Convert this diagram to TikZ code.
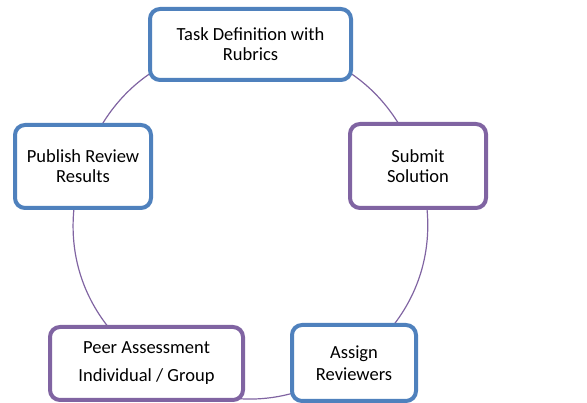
\documentclass[tikz,border=0pt]{standalone}
\usepackage{fontspec}
\setmainfont{Carlito}
\usetikzlibrary{backgrounds}
\definecolor{stepblue}{HTML}{4F81BD}
\definecolor{steppurple}{HTML}{8064A2}
\begin{document}
\begin{tikzpicture}[x=1pt,y=1pt,
  cyclebox/.style={draw, line width=4pt, rounded corners=10pt, fill=white,
    inner sep=0pt, align=center, text=black,
    font=\fontsize{18.5}{20}\selectfont},
  bluebox/.style={cyclebox, draw=stepblue},
  purplebox/.style={cyclebox, draw=steppurple},
  link/.style={draw=steppurple, line width=1.2pt, bend left=36}]
\useasboundingbox (0,0) rectangle (587,403);

% the five stages of the cycle
\node[bluebox, minimum width=201pt, minimum height=71pt] (task) at (250.5,358.5)
  {Task Definition with\\Rubrics};
\node[purplebox, minimum width=136pt, minimum height=84pt] (submit) at (418,237)
  {Submit\\Solution};
\node[bluebox, minimum width=124pt, minimum height=76pt] (assign) at (354,40)
  {Assign\\[2pt]Reviewers};
\node[purplebox, minimum width=193pt, minimum height=73pt] (peer) at (146.5,39.5)
  {Peer Assessment\\[8pt]Individual / Group};
\node[bluebox, minimum width=136pt, minimum height=83pt] (publish) at (83,236.5)
  {Publish Review\\Results};

% circular connectors, hidden under the boxes at their ends
\begin{pgfonlayer}{background}
  \draw[link] (task.center) to (submit.center);
  \draw[link] (submit.center) to (assign.center);
  \draw[link] (assign.center) to (peer.center);
  \draw[link] (peer.center) to (publish.center);
  \draw[link] (publish.center) to (task.center);
\end{pgfonlayer}
\end{tikzpicture}
\end{document}
